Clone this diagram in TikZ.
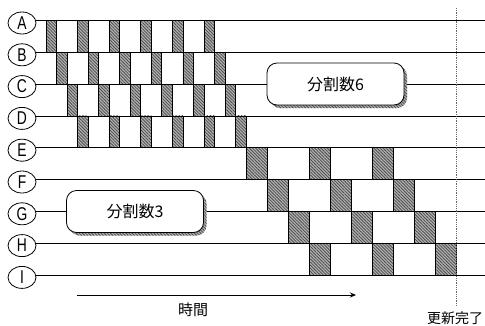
\documentclass[tikz,border=0pt]{standalone}
\usepackage{fontspec}
\setmainfont{Liberation Sans}
\newfontfamily\cjk{Noto Sans CJK JP}
\newfontfamily\narrowsans[FakeStretch=0.75]{Liberation Sans}
\usetikzlibrary{shapes.geometric,patterns.meta,arrows.meta}
\begin{document}
\begin{tikzpicture}[x=1pt,y=-1pt,
  lbl/.style={ellipse,draw,line width=0.8pt,minimum width=28pt,minimum height=22pt,inner sep=0pt,font=\narrowsans\fontsize{18.5}{18.5}\selectfont},
  rowline/.style={line width=0.8pt},
  hatchbox/.style={draw,line width=0.8pt,preaction={fill=black!30},pattern={Lines[angle=-45,distance=2.2pt,line width=0.8pt]},pattern color=black!70},
  callout/.style={draw,line width=0.8pt,fill=white,rounded corners=10pt,minimum width=137pt,minimum height=42pt,inner sep=0pt,font=\cjk\fontsize{16}{16}\selectfont},
  calloutshadow/.style={rounded corners=10pt,minimum width=137pt,minimum height=42pt,inner sep=0pt,preaction={fill=black!30},pattern={Lines[angle=-45,distance=2.2pt,line width=0.8pt]},pattern color=black!70},
  cjktext/.style={font=\cjk\fontsize{#1}{#1}\selectfont,inner sep=0pt},
]
\useasboundingbox (0,0) rectangle (485,325);
\fill[white] (0,0) rectangle (485,325);

% row labels and lines
\foreach \L [count=\i from 0] in {A,B,C,D,E,F,G,H,I} {
  \pgfmathsetmacro\yy{20.5+\i*31.8}
  \node[lbl] (\L) at (22,\yy+2.5) {\L};
  \coordinate (\L e) at (485,\yy);
  \draw[rowline] (\L.east |- \L e) -- (\L e);
}

% split 6 blocks (rows A-D)
\foreach \r in {0,...,3} {
  \foreach \k in {0,...,5} {
    \pgfmathsetmacro\xa{46+\r*10.533+\k*31.6}
    \pgfmathsetmacro\ya{20.5+\r*31.8}
    \draw[hatchbox] (\xa,\ya) rectangle ++(10.533,31.8);
  }
}
% split 3 blocks (rows E-H)
\foreach \r in {0,...,3} {
  \foreach \k in {0,...,2} {
    \pgfmathsetmacro\xa{246+\r*21.067+\k*63.2}
    \pgfmathsetmacro\ya{20.5+(\r+4)*31.8}
    \draw[hatchbox] (\xa,\ya) rectangle ++(21.067,31.8);
  }
}

% callouts
\node[calloutshadow] (c6s) at (338.5,87) {};
\node[callout] (c6) at (335.5,84) {分割数6};
\node[calloutshadow] (c3s) at (138,214.5) {};
\node[callout] (c3) at (135,211.5) {分割数3};

% update-complete line
\coordinate (dtop) at (456,8);
\coordinate (dbot) at (456,306);
\draw[black!60,densely dotted,line width=0.8pt] (dtop) -- (dbot);

% time arrow
\coordinate (ts) at (77,295);
\coordinate (te) at (356,295);
\draw[line width=0.8pt,-{Stealth[length=6pt,width=5pt]}] (ts) -- (te);
\node[cjktext=15] (tl) at (193,310) {時間};
\node[cjktext=14] (done) at (455,318) {更新完了};
\end{tikzpicture}
\end{document}
